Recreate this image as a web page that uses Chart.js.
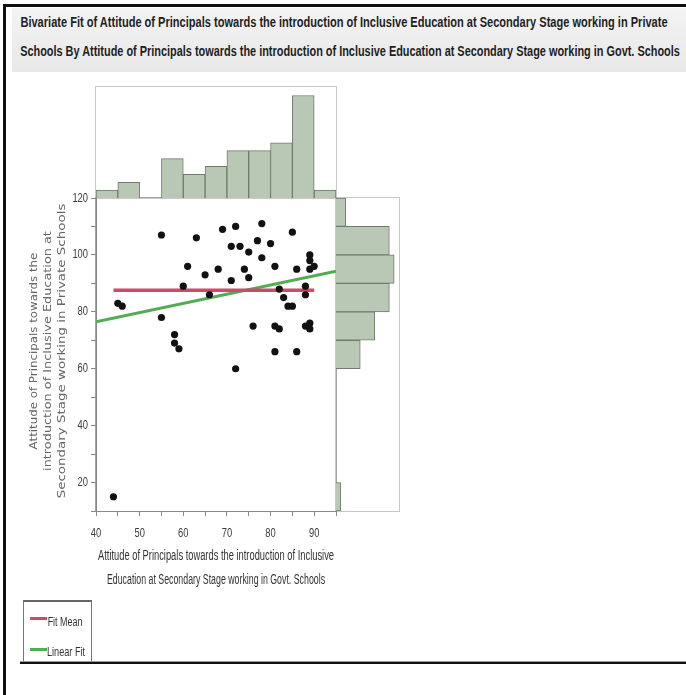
<!DOCTYPE html>
<html>
<head>
<meta charset="utf-8">
<script src="https://cdn.jsdelivr.net/npm/chart.js@4/dist/chart.umd.min.js"></script>
<style>
  body { margin: 0; background: #fff; }
  #page { position: relative; width: 686px; height: 695px; overflow: hidden; font-family: "Liberation Sans", Arial, sans-serif; }
  .box { position: absolute; box-sizing: border-box; }
  canvas { position: absolute; }
  .fit { position: absolute; white-space: nowrap; line-height: 16px; }
  .title { font: bold 14px "Liberation Sans", Arial, sans-serif; color: #1e1e1e; }
  .xtitle { font: 14px "Liberation Sans", Arial, sans-serif; color: #333; }
  .ytitle { font: 12px "DejaVu Sans", Verdana, sans-serif; color: #666; }
  .legend { font: 13px "Liberation Sans", Arial, sans-serif; color: #333; }
</style>
</head>
<body>
<div id="page">
  <div class="box" style="left:3px;top:4px;width:683px;height:3px;background:#111"></div>
  <div class="box" style="left:3px;top:4px;width:3px;height:691px;background:#111"></div>
  <div class="box" style="left:12px;top:8px;width:674px;height:64px;background:linear-gradient(#f3f3f3,#e8e8e8)"></div>

  <div class="fit title" style="left:343.5px;top:21.5px" data-w="647">Bivariate Fit of Attitude of Principals towards the introduction of Inclusive Education at Secondary Stage working in Private</div>
  <div class="fit title" style="left:350px;top:50.5px" data-w="660">Schools By Attitude of Principals towards the introduction of Inclusive Education at Secondary Stage working in Govt. Schools</div>

  <!-- panel frames: top histogram, right histogram, scatter -->
  <div class="box" style="left:95px;top:86px;width:242px;height:113px;border:1px solid #c8c8c8"></div>
  <div class="box" style="left:335px;top:197px;width:65px;height:315px;border:1px solid #c8c8c8"></div>
  <div class="box" style="left:95px;top:197px;width:242px;height:315px;border:1px solid #a4a4a4"></div>

  <canvas id="topHist" width="240" height="112" style="left:96px;top:86px"></canvas>
  <canvas id="rightHist" width="64" height="313" style="left:336px;top:198px"></canvas>
  <canvas id="scatter" width="346" height="370" style="left:0px;top:180px"></canvas>

  <div class="fit ytitle vert" style="left:34px;top:351px" data-w="197" data-sy="0.8">Attitude of Principals towards the</div>
  <div class="fit ytitle vert" style="left:48px;top:351px" data-w="240" data-sy="0.8">introduction of Inclusive Education at</div>
  <div class="fit ytitle vert" style="left:62px;top:351px" data-w="295" data-sy="0.8">Secondary Stage working in Private Schools</div>

  <div class="fit xtitle" style="left:216px;top:555px" data-w="236">Attitude of Principals towards the introduction of Inclusive</div>
  <div class="fit xtitle" style="left:216px;top:579px" data-w="218">Education at Secondary Stage working in Govt. Schools</div>

  <!-- legend -->
  <div class="box" style="left:23px;top:600px;width:69px;height:62px;border:1px solid #777;border-top:2px solid #666"></div>
  <div class="box" style="left:30px;top:617px;width:17px;height:3px;background:#cc4a6a"></div>
  <div class="box" style="left:30px;top:648px;width:17px;height:3px;background:#52ad52"></div>
  <div class="fit legend" style="left:64.5px;top:621px" data-w="35">Fit Mean</div>
  <div class="fit legend" style="left:66px;top:651px" data-w="38">Linear Fit</div>

  <div class="box" style="left:20px;top:661px;width:666px;height:1px;background:#999"></div>
  <div class="box" style="left:20px;top:662px;width:666px;height:2px;background:#111"></div>
</div>

<script>
// one pair of scores per principal: Govt. school (x) and private school (y)
const govtScores    = [45, 46, 55, 55, 58, 58, 59, 60, 61, 63, 65, 66, 68, 69, 71, 71, 72, 72, 73, 74, 75, 75, 76, 77,
                       78, 78, 80, 81, 81, 81, 82, 82, 83, 84, 85, 85, 86, 86, 88, 88, 88, 89, 89, 89, 89, 89, 90, 44];
const privateScores = [83, 82, 107, 78, 72, 69, 67, 89, 96, 106, 93, 86, 95, 109, 103, 91, 110, 60, 103, 95, 101, 92, 75, 105,
                       111, 99, 104, 96, 75, 66, 88, 74, 85, 82, 82, 108, 95, 66, 89, 86, 75, 100, 98, 95, 76, 74, 96, 15];

// marginal histograms
const govtBins = ['40-45', '45-50', '50-55', '55-60', '60-65', '65-70', '70-75', '75-80', '80-85', '85-90', '90-95'];
const govtCounts = [1, 2, 0, 5, 3, 4, 6, 6, 7, 13, 1];
const privateBins = ['110-120', '100-110', '90-100', '80-90', '70-80', '60-70', '50-60', '40-50', '30-40', '20-30', '10-20'];
const privateCounts = [2, 11, 12, 11, 8, 5, 0, 0, 0, 0, 1];

// axes
const xRange = [40, 95];
const yRange = [10, 120];
const xTickLabels = [40, 50, 60, 70, 80, 90];
const yTickLabels = [20, 40, 60, 80, 100, 120];

// squeeze the text blocks to their widths
document.querySelectorAll('.fit').forEach(el => {
  const sx = +el.dataset.w / el.offsetWidth;
  const sy = +(el.dataset.sy || 1);
  const rot = el.classList.contains('vert') ? ' rotate(-90deg)' : '';
  el.style.transform = `translate(-50%, -50%)${rot} scale(${sx}, ${sy})`;
});

// fits
const n = govtScores.length;
const meanX = govtScores.reduce((a, b) => a + b, 0) / n;
const meanY = privateScores.reduce((a, b) => a + b, 0) / n;
let sxy = 0, sxx = 0;
for (let i = 0; i < n; i++) {
  sxy += (govtScores[i] - meanX) * (privateScores[i] - meanY);
  sxx += (govtScores[i] - meanX) ** 2;
}
const slope = sxy / sxx;
const intercept = meanY - slope * meanX;

const points = govtScores.map((x, i) => ({ x: x, y: privateScores[i] }));
const meanLine = [
  { x: Math.min(...govtScores), y: meanY },
  { x: Math.max(...govtScores), y: meanY }
];
const linearLine = xRange.map(x => ({ x: x, y: intercept + slope * x }));

const barFill = '#b9c8b4';
const barEdge = '#6f7b6c';

// condensed tick labels, drawn at the scales' own tick positions
const narrowTicks = {
  id: 'narrowTicks',
  afterDraw(chart) {
    const ctx = chart.ctx;
    const xs = chart.scales.x, ys = chart.scales.y;
    ctx.save();
    ctx.font = '13px "Liberation Sans", Arial, sans-serif';
    ctx.fillStyle = '#3a3a3a';
    ctx.textBaseline = 'middle';
    ctx.textAlign = 'center';
    xTickLabels.forEach(v => {
      ctx.save();
      ctx.translate(xs.getPixelForValue(v), xs.top + 22);
      ctx.scale(0.72, 1);
      ctx.fillText(String(v), 0, 0);
      ctx.restore();
    });
    ctx.textAlign = 'right';
    yTickLabels.forEach(v => {
      ctx.save();
      ctx.translate(ys.right - 8, ys.getPixelForValue(v));
      ctx.scale(0.72, 1);
      ctx.fillText(String(v), 0, 0);
      ctx.restore();
    });
    ctx.restore();
  }
};

new Chart(document.getElementById('scatter'), {
  type: 'scatter',
  data: {
    datasets: [
      { label: 'Scores', data: points, pointRadius: 3.6, pointBackgroundColor: '#111', pointBorderWidth: 0 },
      { type: 'line', label: 'Fit Mean', data: meanLine, borderColor: '#cc4a6a', borderWidth: 3.5, pointRadius: 0 },
      { type: 'line', label: 'Linear Fit', data: linearLine, borderColor: '#52ad52', borderWidth: 3, pointRadius: 0 }
    ]
  },
  options: {
    responsive: false,
    animation: false,
    layout: { padding: { top: 18, right: 10, left: 0, bottom: 0 } },
    plugins: { legend: { display: false }, tooltip: { enabled: false } },
    scales: {
      x: {
        type: 'linear', min: xRange[0], max: xRange[1],
        ticks: { stepSize: 5, autoSkip: false, display: false },
        grid: { drawOnChartArea: false, tickLength: 5, color: '#888' },
        border: { color: '#888' },
        afterFit: s => { s.height = 39; }
      },
      y: {
        type: 'linear', min: yRange[0], max: yRange[1],
        ticks: { stepSize: 10, autoSkip: false, display: false },
        grid: { drawOnChartArea: false, tickLength: 5, color: '#888' },
        border: { color: '#888' },
        afterFit: s => { s.width = 96; }
      }
    }
  },
  plugins: [narrowTicks]
});

new Chart(document.getElementById('topHist'), {
  type: 'bar',
  data: {
    labels: govtBins,
    datasets: [{ data: govtCounts, backgroundColor: barFill, borderColor: barEdge, borderWidth: 1,
                 barPercentage: 1, categoryPercentage: 1 }]
  },
  options: {
    responsive: false,
    animation: false,
    plugins: { legend: { display: false }, tooltip: { enabled: false } },
    scales: { x: { display: false }, y: { display: false, min: 0, max: 14.2 } }
  }
});

new Chart(document.getElementById('rightHist'), {
  type: 'bar',
  data: {
    labels: privateBins,
    datasets: [{ data: privateCounts, backgroundColor: barFill, borderColor: barEdge, borderWidth: 1,
                 barPercentage: 1, categoryPercentage: 1 }]
  },
  options: {
    indexAxis: 'y',
    responsive: false,
    animation: false,
    plugins: { legend: { display: false }, tooltip: { enabled: false } },
    scales: { y: { display: false }, x: { display: false, min: 0, max: 13.2 } }
  }
});
</script>
</body>
</html>
